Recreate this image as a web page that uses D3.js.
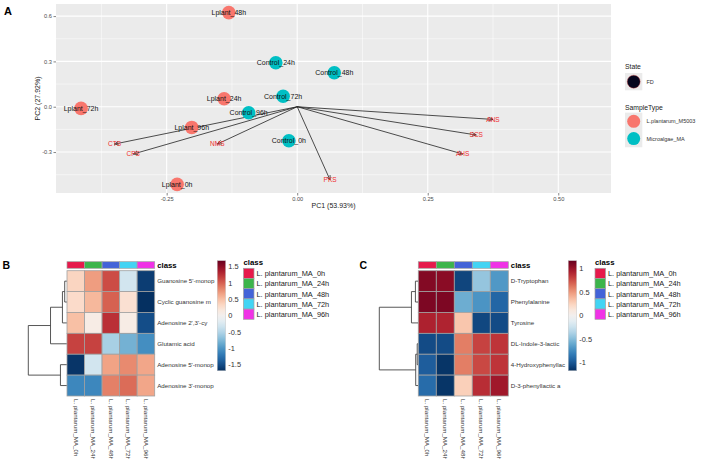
<!DOCTYPE html>
<html>
<head>
<meta charset="utf-8">
<script src="https://cdn.jsdelivr.net/npm/d3@7"></script>
<style>
  body { margin: 0; background: #fff; }
  text { font-family: "Liberation Sans", Arial, sans-serif; }
</style>
</head>
<body>
<div id="chart"></div>
<script>
// ---------- Panel A: PCA biplot data
const sampleNames = ["Lplant_48h", "Control_24h", "Control_48h", "Lplant_24h", "Control_72h",
  "Lplant_72h", "Control_96h", "Lplant_96h", "Control_0h", "Lplant_0h"];
const samplePC1 = [-0.131, -0.041, 0.071, -0.140, -0.027, -0.414, -0.093, -0.202, -0.016, -0.230];
const samplePC2 = [0.623, 0.291, 0.225, 0.053, 0.069, -0.011, -0.040, -0.137, -0.225, -0.514];
const sampleType = ["L.plantarum_M5003", "Microalgae_MA", "Microalgae_MA", "L.plantarum_M5003", "Microalgae_MA",
  "L.plantarum_M5003", "Microalgae_MA", "L.plantarum_M5003", "Microalgae_MA", "L.plantarum_M5003"];

const loadingNames = ["CTS", "CPS", "NMS", "PKS", "ANS", "SCS", "AHS"];
const loadingPC1 = [-0.350, -0.314, -0.153, 0.063, 0.375, 0.343, 0.317];
const loadingPC2 = [-0.247, -0.313, -0.247, -0.485, -0.084, -0.187, -0.313];

const pcaXTicks = [-0.25, 0, 0.25, 0.5];
const pcaYTicks = [-0.3, 0, 0.3, 0.6];
const typeNames = ["L.plantarum_M5003", "Microalgae_MA"];
const typeColors = ["#F8766D", "#00BFC4"];

// ---------- Panels B and C: heatmaps data
const classLabels = ["L. plantarum_MA_0h", "L. plantarum_MA_24h", "L. plantarum_MA_48h",
  "L. plantarum_MA_72h", "L. plantarum_MA_96h"];
const classColors = ["#e6194b", "#3cb44b", "#4363d8", "#42d4f4", "#f032e6"];

const bRows = ["Guanosine 5'-monop", "Cyclic guanosine m", "Adenosine 2',3'-cy",
  "Glutamic acid", "Adenosine 5'-monop", "Adenosine 3'-monop"];
const bValues = [
  [0.35, 0.70, 1.10, -0.30, -1.60],
  [0.30, 0.55, 1.00, 0.25, -1.68],
  [0.50, 0.10, 1.25, 0.10, -1.50],
  [1.15, 1.15, -0.55, -0.80, -1.05],
  [-1.65, -0.30, 0.67, 0.80, 0.65],
  [-1.10, -1.10, 0.85, 0.95, 0.65]
];
const bScaleTicks = [-1.5, -1, -0.5, 0, 0.5, 1, 1.5];
// hclust style: negative = leaf (row index+1), positive = earlier merge
const bMerge = [[-1, -2], [1, -3], [2, -4], [-5, -6], [3, 4]];
const bHeights = [2, 4.3, 16.3, 6.3, 38.7];

const cRows = ["D-Tryptophan", "Phenylalanine", "Tyrosine",
  "DL-Indole-3-lactic", "4-Hydroxyphenyllac", "D-3-phenyllactic a"];
const cValues = [
  [1.08, 1.06, -1.08, -0.45, -0.68],
  [1.10, 1.10, -0.58, -0.70, -0.93],
  [0.93, 0.92, 0.32, -1.07, -1.05],
  [-1.05, -1.05, 0.60, 0.80, 0.85],
  [-0.97, -1.15, 0.60, 0.78, 0.85],
  [-0.90, -1.15, 0.27, 0.88, 0.98]
];
const cScaleTicks = [-1, -0.5, 0, 0.5, 1];
const cMerge = [[-1, -2], [1, -3], [-4, -5], [3, -6], [2, 4]];
const cHeights = [2.6, 6.6, 0.8, 2.3, 39];

const svg = d3.select("#chart").append("svg")
  .attr("width", 701).attr("height", 459);

// ================= Panel A =================
const x = d3.scaleLinear().domain([-0.462, 0.601]).range([56, 611]);
const y = d3.scaleLinear().domain([-0.571, 0.68]).range([193, 4]);

svg.append("text").attr("x", 4).attr("y", 15)
  .style("font-size", "11px").style("font-weight", "bold").text("A");

svg.append("rect").attr("x", 56).attr("y", 4)
  .attr("width", 555).attr("height", 189).attr("fill", "#ebebeb");

// minor grid
const xMinor = pcaXTicks.map(t => t - 0.125).concat([0.625]).filter(t => t > -0.462 && t < 0.601);
const yMinor = pcaYTicks.map(t => t - 0.15).concat([0.75]).filter(t => t > -0.571 && t < 0.68);
const grid = svg.append("g");
grid.selectAll(".xm").data(xMinor).enter().append("line")
  .attr("x1", d => x(d)).attr("x2", d => x(d)).attr("y1", 4).attr("y2", 193)
  .attr("stroke", "#fff").attr("stroke-width", 0.5);
grid.selectAll(".ym").data(yMinor).enter().append("line")
  .attr("y1", d => y(d)).attr("y2", d => y(d)).attr("x1", 56).attr("x2", 611)
  .attr("stroke", "#fff").attr("stroke-width", 0.5);
grid.selectAll(".xM").data(pcaXTicks).enter().append("line")
  .attr("x1", d => x(d)).attr("x2", d => x(d)).attr("y1", 4).attr("y2", 193)
  .attr("stroke", "#fff").attr("stroke-width", 1.1);
grid.selectAll(".yM").data(pcaYTicks).enter().append("line")
  .attr("y1", d => y(d)).attr("y2", d => y(d)).attr("x1", 56).attr("x2", 611)
  .attr("stroke", "#fff").attr("stroke-width", 1.1);

// axes
const xAxis = svg.append("g").attr("transform", "translate(0,193)")
  .call(d3.axisBottom(x).tickValues(pcaXTicks).tickSize(2.5).tickPadding(1.5)
    .tickFormat(d => d.toFixed(2)));
const yAxis = svg.append("g").attr("transform", "translate(56,0)")
  .call(d3.axisLeft(y).tickValues(pcaYTicks).tickSize(2.5).tickPadding(1.5)
    .tickFormat(d => d.toFixed(1)));
[xAxis, yAxis].forEach(a => {
  a.select(".domain").remove();
  a.selectAll("line").attr("stroke", "#333").attr("stroke-width", 0.6);
  a.selectAll("text").attr("fill", "#4d4d4d").style("font-size", "5.7px");
});

svg.append("text").attr("x", 333.5).attr("y", 208).attr("text-anchor", "middle")
  .style("font-size", "7px").attr("fill", "#222").text("PC1 (53.93%)");
svg.append("text").attr("transform", "translate(39.5,98.5) rotate(-90)").attr("text-anchor", "middle")
  .style("font-size", "7px").attr("fill", "#222").text("PC2 (27.92%)");

// loadings arrows
svg.append("defs").append("marker")
  .attr("id", "arrowhead").attr("viewBox", "0 0 10 10")
  .attr("refX", 9).attr("refY", 5).attr("markerWidth", 5).attr("markerHeight", 5)
  .attr("markerUnits", "userSpaceOnUse").attr("orient", "auto")
  .append("path").attr("d", "M0,1 L9,5 L0,9").attr("fill", "none")
  .attr("stroke", "#222").attr("stroke-width", 1.4);

const loadingIdx = d3.range(loadingNames.length);
svg.selectAll(".arrow").data(loadingIdx).enter().append("line")
  .attr("x1", x(0)).attr("y1", y(0))
  .attr("x2", i => x(loadingPC1[i])).attr("y2", i => y(loadingPC2[i]))
  .attr("stroke", "#222").attr("stroke-width", 0.8)
  .attr("marker-end", "url(#arrowhead)");

// points
const sampleIdx = d3.range(sampleNames.length);
svg.selectAll(".pt").data(sampleIdx).enter().append("circle")
  .attr("cx", i => x(samplePC1[i])).attr("cy", i => y(samplePC2[i])).attr("r", 6.8)
  .attr("fill", i => typeColors[typeNames.indexOf(sampleType[i])]);

svg.selectAll(".pl").data(sampleIdx).enter().append("text")
  .attr("x", i => x(samplePC1[i])).attr("y", i => y(samplePC2[i]) + 2.5)
  .attr("text-anchor", "middle").style("font-size", "7px").attr("fill", "#111")
  .text(i => sampleNames[i]);

svg.selectAll(".ll").data(loadingIdx).enter().append("text")
  .attr("x", i => x(loadingPC1[i])).attr("y", i => y(loadingPC2[i]) + 2.3)
  .attr("text-anchor", "middle").style("font-size", "6.5px").attr("fill", "#f02b2b")
  .text(i => loadingNames[i]);

// legend A
const legA = svg.append("g");
legA.append("text").attr("x", 625).attr("y", 69).style("font-size", "6.8px").attr("fill", "#222").text("State");
legA.append("rect").attr("x", 625).attr("y", 73).attr("width", 17.3).attr("height", 17.3).attr("fill", "#ebebeb");
legA.append("circle").attr("cx", 633.7).attr("cy", 81.7).attr("r", 6.5)
  .attr("fill", "#05051c").attr("stroke", "#d04040").attr("stroke-width", 0.4);
legA.append("text").attr("x", 646.5).attr("y", 83.5).style("font-size", "5.5px").attr("fill", "#333").text("FD");
legA.append("text").attr("x", 625).attr("y", 109.5).style("font-size", "6.8px").attr("fill", "#222").text("SampleType");
typeNames.forEach((t, i) => {
  const cy = 121.3 + i * 17.3;
  legA.append("rect").attr("x", 625).attr("y", cy - 8.65).attr("width", 17.3).attr("height", 17.3).attr("fill", "#ebebeb");
  legA.append("circle").attr("cx", 633.7).attr("cy", cy).attr("r", 6.5).attr("fill", typeColors[i]);
  legA.append("text").attr("x", 646.5).attr("y", cy + 2).style("font-size", "5.5px").attr("fill", "#333").text(t);
});

// ================= Heatmaps =================
function heatmap(opts) {
  const g = svg.append("g");
  const colX = d3.scaleBand().domain(classLabels).range([opts.x0, opts.x1]);
  const rowY = d3.scaleBand().domain(opts.rows).range([270.7, 396]);
  const lim = opts.limit;
  const color = v => d3.interpolateRdBu(1 - (v + lim) / (2 * lim));

  g.append("text").attr("x", opts.labelX).attr("y", 268.5)
    .style("font-size", "10.5px").style("font-weight", "bold").text(opts.label);

  // class annotation bar
  g.selectAll(".cls").data(classLabels).enter().append("rect")
    .attr("x", d => colX(d)).attr("y", 261.7).attr("width", colX.bandwidth()).attr("height", 6.6)
    .attr("fill", (d, i) => classColors[i]).attr("stroke", "#a0a0a0").attr("stroke-width", 0.7);
  g.append("text").attr("x", opts.x1 + 2.5).attr("y", 267.8)
    .style("font-size", "7.8px").style("font-weight", "bold").text("class");

  // cells
  opts.values.forEach((row, r) => {
    g.selectAll(".r" + r).data(row).enter().append("rect")
      .attr("x", (d, i) => colX(classLabels[i])).attr("y", rowY(opts.rows[r]))
      .attr("width", colX.bandwidth()).attr("height", rowY.bandwidth())
      .attr("fill", d => color(d)).attr("stroke", "#a0a0a0").attr("stroke-width", 0.8);
  });

  // row labels
  g.selectAll(".rl").data(opts.rows).enter().append("text")
    .attr("x", opts.x1 + 2.5).attr("y", d => rowY(d) + rowY.bandwidth() / 2 + 2.2)
    .style("font-size", "6.2px").attr("fill", "#333").text(d => d);

  // column labels
  g.selectAll(".cl").data(classLabels).enter().append("text")
    .attr("transform", d => "translate(" + (colX(d) + colX.bandwidth() / 2 - 2.2) + ",399) rotate(90)")
    .style("font-size", "6.2px").attr("fill", "#333").text(d => d);

  // dendrogram
  const hx = d3.scaleLinear().domain([0, d3.max(opts.heights)]).range([opts.x0 - 0.3, opts.dendroLeft]);
  const nodes = [];
  const pos = k => k < 0
    ? { y: rowY(opts.rows[-k - 1]) + rowY.bandwidth() / 2, h: 0 }
    : nodes[k - 1];
  opts.merge.forEach((m, k) => {
    const a = pos(m[0]), b = pos(m[1]), h = opts.heights[k];
    g.append("path")
      .attr("d", "M" + hx(a.h) + "," + a.y + "H" + hx(h) + "V" + b.y + "H" + hx(b.h))
      .attr("fill", "none").attr("stroke", "#444").attr("stroke-width", 0.9);
    nodes.push({ y: (a.y + b.y) / 2, h: h });
  });

  // colour key
  const gradId = "grad" + opts.label;
  const grad = svg.select("defs").append("linearGradient").attr("id", gradId)
    .attr("x1", 0).attr("y1", 1).attr("x2", 0).attr("y2", 0);
  d3.range(0, 1.0001, 0.05).forEach(t => {
    grad.append("stop").attr("offset", t).attr("stop-color", d3.interpolateRdBu(1 - t));
  });
  const keyY = d3.scaleLinear().domain([-lim, lim]).range([370.7, 260.7]);
  g.append("rect").attr("x", opts.keyX).attr("y", 260.7).attr("width", 8.3).attr("height", 110)
    .attr("fill", "url(#" + gradId + ")").attr("stroke", "#bbb").attr("stroke-width", 0.4);
  g.selectAll(".kt").data(opts.keyTicks).enter().append("text")
    .attr("x", opts.keyX + 11).attr("y", d => keyY(d) + 2.6)
    .style("font-size", "7.4px").attr("fill", "#333").text(d => d);

  // class legend
  g.append("text").attr("x", opts.legX).attr("y", 265)
    .style("font-size", "7.8px").style("font-weight", "bold").text("class");
  classLabels.forEach((c, i) => {
    g.append("rect").attr("x", opts.legX).attr("y", 268.3 + i * 10.2).attr("width", 10.5).attr("height", 10.2)
      .attr("fill", classColors[i]).attr("stroke", "#a0a0a0").attr("stroke-width", 0.7);
    g.append("text").attr("x", opts.legX + 13).attr("y", 268.3 + i * 10.2 + 7.8)
      .style("font-size", "7.4px").attr("fill", "#222").text(c);
  });
}

heatmap({
  label: "B", labelX: 2.5, rows: bRows, values: bValues, limit: 1.68,
  x0: 67, x1: 154.7, dendroLeft: 28.3, merge: bMerge, heights: bHeights,
  keyX: 217.3, keyTicks: bScaleTicks, legX: 243.5
});
heatmap({
  label: "C", labelX: 359.5, rows: cRows, values: cValues, limit: 1.17,
  x0: 418.3, x1: 508.3, dendroLeft: 379.3, merge: cMerge, heights: cHeights,
  keyX: 568.3, keyTicks: cScaleTicks, legX: 595
});
</script>
</body>
</html>
